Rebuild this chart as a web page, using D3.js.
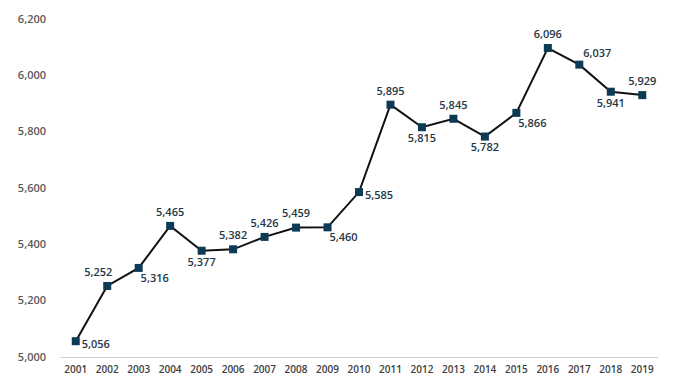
<!DOCTYPE html>
<html>
<head>
<meta charset="utf-8">
<script src="https://cdn.jsdelivr.net/npm/d3@7"></script>
<style>
  body { margin: 0; background: #fff; }
  svg { display: block; font-family: "Open Sans", "Noto Sans", sans-serif; }
  .tick-y { fill: #595959; font-size: 11px; font-weight: 600; }
  .tick-x { fill: #404040; font-size: 10px; font-weight: 600; }
  .val { fill: #253746; font-size: 11px; font-weight: 600; }
</style>
</head>
<body>
<svg id="chart" width="677" height="386"></svg>
<script>
// chart data
var years = ["2001","2002","2003","2004","2005","2006","2007","2008","2009","2010",
             "2011","2012","2013","2014","2015","2016","2017","2018","2019"];
var values = [5056, 5252, 5316, 5465, 5377, 5382, 5426, 5459, 5460, 5585,
              5895, 5815, 5845, 5782, 5866, 6096, 6037, 5941, 5929];
var yTicks = [5000, 5200, 5400, 5600, 5800, 6000, 6200];
// where each value label sits relative to its marker
var labelPlace = ["right","aboveLeft","belowRight","above","below","above","above","above","belowRight","right",
                  "above","below","above","below","belowRight","above","aboveRight","below","above"];

var svg = d3.select("#chart");

// plot area (note: "top" is reserved on window, so use other names)
var plotLeft = 60, plotRight = 658, plotTop = 18.7, plotBottom = 357;

var x = d3.scaleBand().domain(years).range([plotLeft, plotRight]);
var y = d3.scaleLinear().domain([5000, 6200]).range([plotBottom, plotTop]);

// y tick labels (no gridlines)
svg.append("g").selectAll("text")
  .data(yTicks)
  .enter().append("text")
  .attr("class", "tick-y")
  .attr("x", 46)
  .attr("y", function(d){ return y(d); })
  .attr("dy", "0.35em")
  .attr("text-anchor", "end")
  .text(d3.format(","));

// x axis
var xAxis = d3.axisBottom(x).tickSize(0).tickPadding(9);
var gx = svg.append("g")
  .attr("transform", "translate(0," + plotBottom + ")")
  .call(xAxis);
gx.attr("font-family", null).attr("font-size", null);
gx.select(".domain").attr("stroke", "#d0d0d0").attr("stroke-width", 1.2);
gx.selectAll("text").attr("class", "tick-x").attr("fill", null);

var cx = function(d, i){ return x(years[i]) + x.bandwidth() / 2; };

// line
var line = d3.line()
  .x(function(d, i){ return cx(d, i); })
  .y(function(d){ return y(d); });

svg.append("path")
  .datum(values)
  .attr("d", line)
  .attr("fill", "none")
  .attr("stroke", "#111")
  .attr("stroke-width", 2);

// square markers
var m = 8;
svg.append("g").selectAll("rect")
  .data(values)
  .enter().append("rect")
  .attr("x", function(d, i){ return cx(d, i) - m / 2; })
  .attr("y", function(d){ return y(d) - m / 2; })
  .attr("width", m)
  .attr("height", m)
  .attr("fill", "#0d3b55");

// value labels
var offsets = {
  above:      {dx: 0,   dy: -14, anchor: "middle"},
  below:      {dx: 0,   dy: 11,  anchor: "middle"},
  aboveLeft:  {dx: -9,  dy: -14, anchor: "middle"},
  aboveRight: {dx: 18,  dy: -12, anchor: "middle"},
  belowRight: {dx: 16,  dy: 10,  anchor: "middle"},
  right:      {dx: 6,   dy: 3,   anchor: "start"}
};

svg.append("g").selectAll("text")
  .data(values)
  .enter().append("text")
  .attr("class", "val")
  .attr("x", function(d, i){ return cx(d, i) + offsets[labelPlace[i]].dx; })
  .attr("y", function(d, i){ return y(d) + offsets[labelPlace[i]].dy; })
  .attr("dy", "0.35em")
  .attr("text-anchor", function(d, i){ return offsets[labelPlace[i]].anchor; })
  .text(d3.format(","));
</script>
</body>
</html>
